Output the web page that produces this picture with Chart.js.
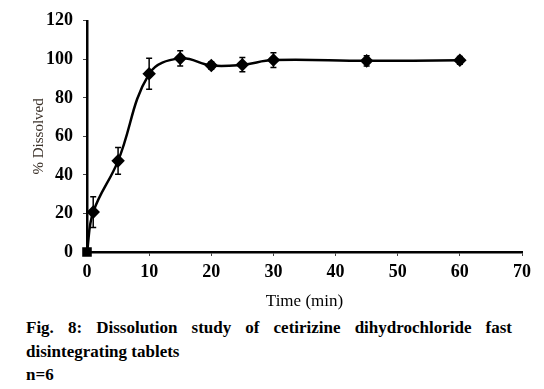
<!DOCTYPE html>
<html>
<head>
<meta charset="utf-8">
<script src="https://cdn.jsdelivr.net/npm/chart.js@4.4.0/dist/chart.umd.min.js"></script>
<style>
  body { margin: 0; background: #fff; }
  #wrap { position: relative; width: 544px; height: 389px; }
  #c { position: absolute; left: 0; top: 0; }
  .cap { position: absolute; left: 26px; font-family: 'Liberation Serif', serif; font-weight: bold; font-size: 17px; line-height: 23.5px; color: #000; }
  #cap1 { top: 316px; width: 486px; text-align: justify; }
  #cap2 { top: 363px; }
</style>
</head>
<body>
<div id="wrap">
  <canvas id="c" width="544" height="312"></canvas>
  <div class="cap" id="cap1">Fig. 8: Dissolution study of cetirizine dihydrochloride fast disintegrating tablets</div>
  <div class="cap" id="cap2">n=6</div>
</div>
<script>
const tempos = [0, 1, 5, 10, 15, 20, 25, 30, 45, 60];
const dissolvido = [0, 20.7, 47.3, 92.5, 100.5, 96.8, 97.2, 99.6, 99.2, 99.5];
const desvio = [0, 8, 7, 8, 4, 2, 3.7, 3.8, 2.6, 2];
const marcadores = ['rect', 'rectRot', 'rectRot', 'rectRot', 'rectRot', 'rectRot', 'rectRot', 'rectRot', 'rectRot', 'rectRot'];

const fonteTicks = { family: 'Liberation Serif', size: 18, weight: 'bold' };

// barras de erro desenhadas com as escalas do grafico
const barrasErro = {
  id: 'barrasErro',
  afterDatasetsDraw(chart) {
    const ctx = chart.ctx;
    const x = chart.scales.x, y = chart.scales.y;
    ctx.save();
    ctx.strokeStyle = '#000';
    ctx.lineWidth = 1.5;
    for (let i = 0; i < tempos.length; i++) {
      if (!desvio[i]) continue;
      const px = x.getPixelForValue(tempos[i]);
      const top = y.getPixelForValue(dissolvido[i] + desvio[i]);
      const bot = y.getPixelForValue(dissolvido[i] - desvio[i]);
      ctx.beginPath();
      ctx.moveTo(px, top); ctx.lineTo(px, bot);
      ctx.moveTo(px - 3, top); ctx.lineTo(px + 3, top);
      ctx.moveTo(px - 3, bot); ctx.lineTo(px + 3, bot);
      ctx.stroke();
    }
    ctx.restore();
  }
};

new Chart(document.getElementById('c'), {
  type: 'line',
  data: {
    datasets: [{
      data: tempos.map((t, i) => ({ x: t, y: dissolvido[i] })),
      borderColor: '#000',
      backgroundColor: '#000',
      borderWidth: 2.5,
      tension: 0.4,
      pointStyle: marcadores,
      pointRadius: 5,
      pointHoverRadius: 5,
      clip: false
    }]
  },
  options: {
    responsive: false,
    animation: false,
    events: [],
    layout: { padding: { top: 19, right: 22, left: 30, bottom: 0 } },
    plugins: { legend: { display: false }, tooltip: { enabled: false } },
    scales: {
      x: {
        type: 'linear', min: 0, max: 70,
        afterFit: s => { s.height = 312 - 252; },
        border: { color: '#000', width: 2.5 },
        grid: { drawOnChartArea: false, drawTicks: true, tickLength: 4, color: '#444' },
        ticks: { stepSize: 10, color: '#000', font: fonteTicks, padding: 6 },
        title: { display: true, text: 'Time (min)', color: '#000', font: { family: 'Liberation Serif', size: 17 }, padding: { top: 0, bottom: 0 } }
      },
      y: {
        min: 0, max: 120,
        afterFit: s => { s.width = 57; },
        border: { color: '#000', width: 2.5 },
        grid: { drawOnChartArea: false, drawTicks: true, tickLength: 4, color: '#444' },
        ticks: { stepSize: 20, color: '#000', font: fonteTicks, padding: 10 },
        title: { display: true, text: '% Dissolved', color: '#3a3028', font: { family: 'Liberation Serif', size: 15 }, padding: { top: 0, bottom: 0 } }
      }
    }
  },
  plugins: [barrasErro]
});
</script>
</body>
</html>
